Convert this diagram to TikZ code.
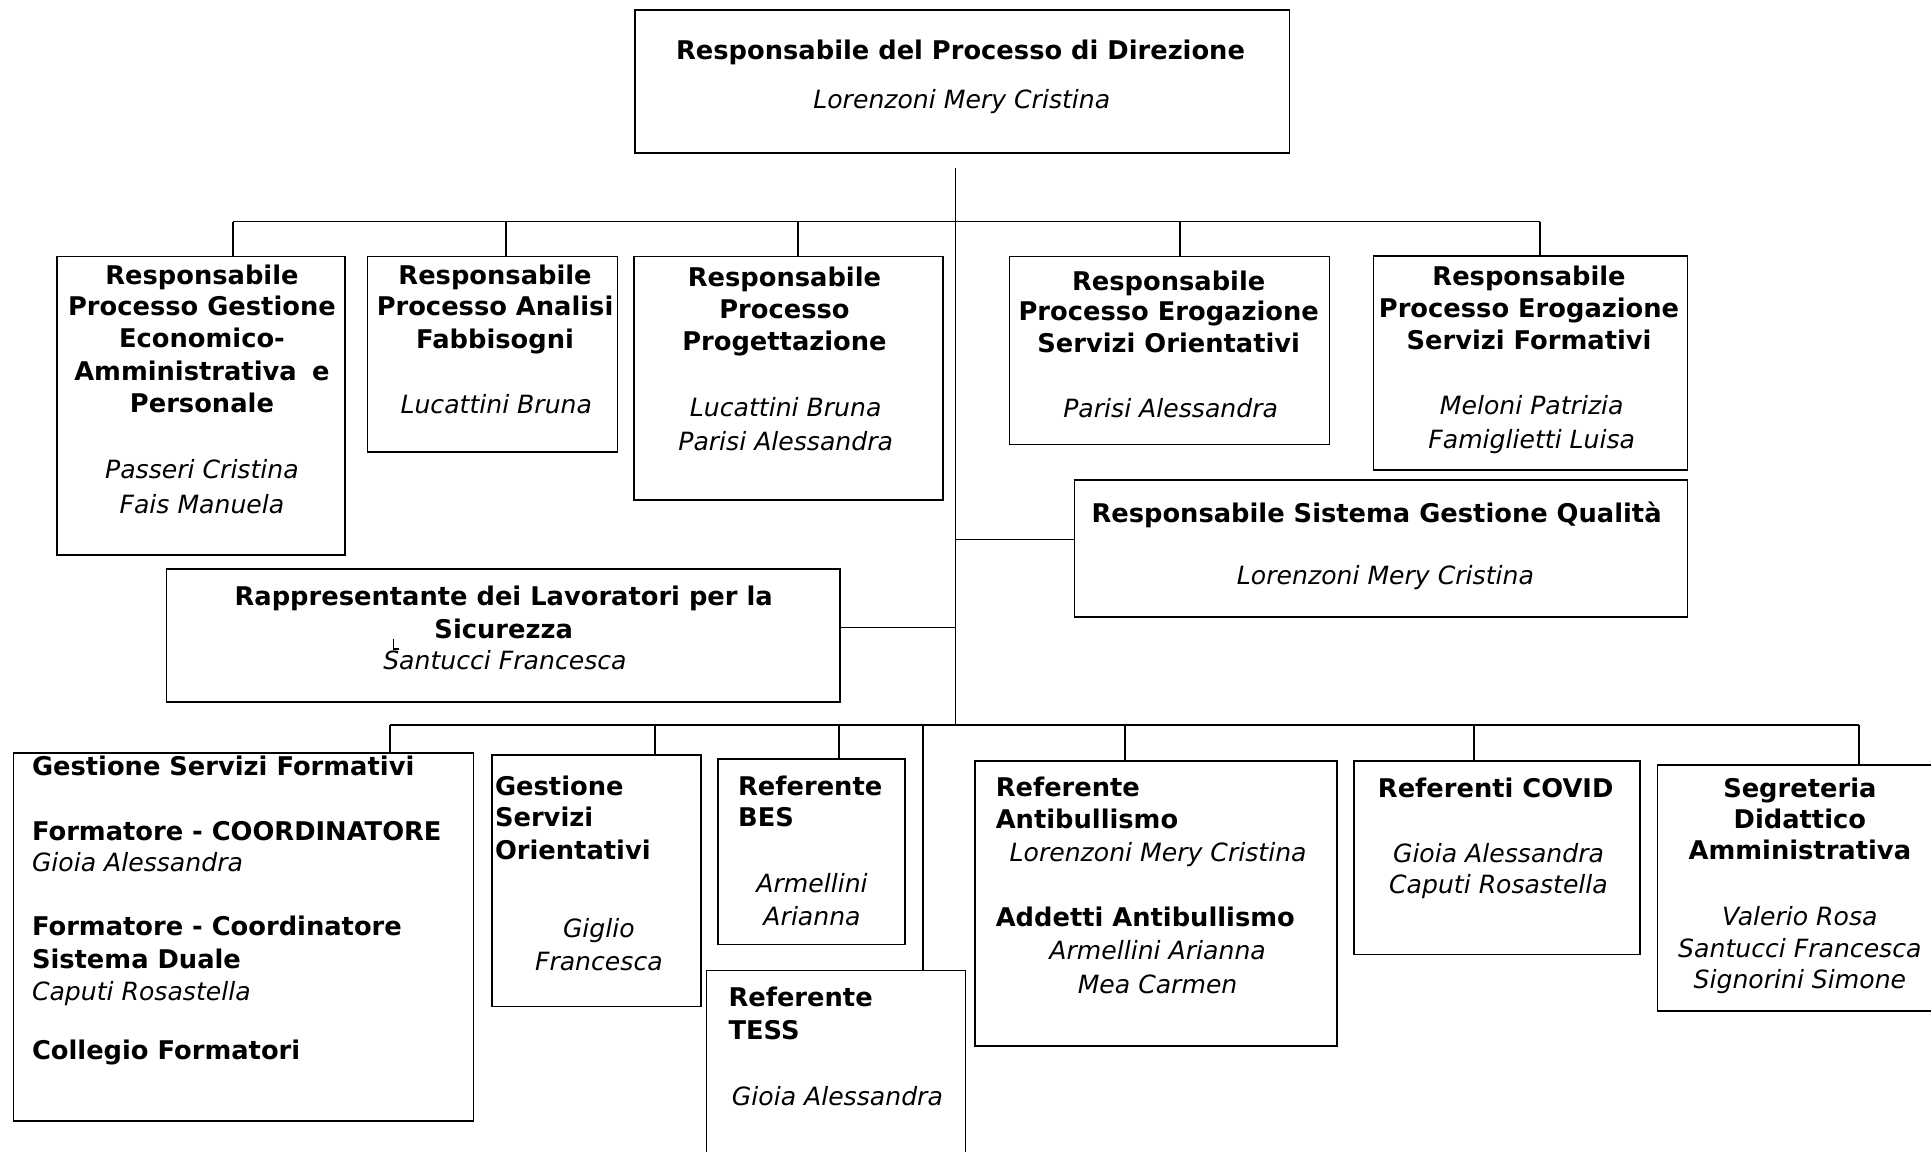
\documentclass[tikz,border=0pt]{standalone}
\usepackage{fontspec}
\setmainfont{DejaVu Sans}
\newcommand\mkbox[5]{\node[box, minimum width={#4-#2}, minimum height={#5-#3}] (#1) at ({(#2+#4)/2},{(#3+#5)/2}) {};}
\tikzset{
  box/.style={draw, line width=1.3pt, inner sep=0pt, outer sep=0pt, rectangle},
  tb/.style={font=\fontsize{20.9}{25}\selectfont\bfseries, inner sep=0pt, anchor=base},
  ti/.style={font=\fontsize{20.4}{25}\selectfont\itshape, inner sep=0pt, anchor=base},
  tbl/.style={tb, anchor=base west},
  conn/.style={line width=1.3pt},
}
\begin{document}
\begin{tikzpicture}[x=1pt,y=-1pt]
\useasboundingbox (0,0) rectangle (1568,935);
\fill[white] (0,0) rectangle (1568,935);
\clip (0,0) rectangle (1568,935);

% boxes
\mkbox{dir}{515.6}{8.1}{1047.2}{124}
\mkbox{b1}{46.5}{208.4}{280}{450.7}
\mkbox{b2}{298.4}{208.4}{501.5}{366.8}
\mkbox{b3}{514.7}{208.4}{765.8}{406}
\mkbox{b4}{819.7}{208.4}{1079.5}{360.8}
\mkbox{b5}{1115.4}{207.9}{1370.3}{381.6}
\mkbox{rsgq}{872.5}{389.8}{1370.3}{500.8}
\mkbox{rls}{135.3}{462}{682.3}{569.8}
\mkbox{gsf}{11}{611.2}{384.4}{910.3}
\mkbox{gso}{399.3}{613.1}{569.4}{817.4}
\mkbox{bes}{582.8}{616.3}{735}{766.8}
\mkbox{tess}{573.8}{788.2}{784.1}{960}
\mkbox{anti}{791.6}{617.7}{1085.7}{849.4}
\mkbox{covid}{1099.5}{617.7}{1331.6}{775}
\mkbox{segr}{1346}{621.2}{1590}{820.7}

% connectors
\coordinate (trunkTop) at (776,136.7);
\coordinate (trunkBot) at (776,588.5);
\draw[conn] (trunkTop) -- (trunkBot);
\coordinate (barL) at (189,180);
\coordinate (barR) at (1250.5,180);
\draw[conn] (barL) -- (barR);
\coordinate (d1) at (189,180);
\coordinate (d2) at (410.7,180);
\coordinate (d3) at (648,180);
\coordinate (d4) at (958,180);
\coordinate (d5) at (1250.5,180);
\draw[conn] (d1) -- (d1 |- b1.north);
\draw[conn] (d2) -- (d2 |- b2.north);
\draw[conn] (d3) -- (d3 |- b3.north);
\draw[conn] (d4) -- (d4 |- b4.north);
\draw[conn] (d5) -- (d5 |- b5.north);
\coordinate (jq) at (776,438);
\draw[conn] (jq) -- (jq -| rsgq.west);
\coordinate (jr) at (776,509.4);
\draw[conn] (jr) -- (jr -| rls.east);
\coordinate (bbL) at (316.7,588.5);
\coordinate (bbR) at (1509.4,588.5);
\draw[conn] (bbL) -- (bbR);
\coordinate (e1) at (316.7,588.5);
\coordinate (e2) at (532,588.5);
\coordinate (e3) at (681.3,588.5);
\coordinate (e4) at (749.3,588.5);
\coordinate (e5) at (913.7,588.5);
\coordinate (e6) at (1197,588.5);
\coordinate (e7) at (1509.4,588.5);
\draw[conn] (e1) -- (e1 |- gsf.north);
\draw[conn] (e2) -- (e2 |- gso.north);
\draw[conn] (e3) -- (e3 |- bes.north);
\draw[conn] (e4) -- (e4 |- tess.north);
\draw[conn] (e5) -- (e5 |- anti.north);
\draw[conn] (e6) -- (e6 |- covid.north);
\draw[conn] (e7) -- (e7 |- segr.north);
% small tick mark in the RLS box
\coordinate (tk1) at (319.5,518.5);
\coordinate (tk2) at (319.5,527);
\coordinate (tk3) at (324,527);
\draw[line width=1.1pt] (tk1) -- (tk2) -- (tk3);

% texts: direction
\node[tb] (tdir1) at (780,48.5) {Responsabile del Processo di Direzione};
\node[ti] (tdir2) at (781,88) {Lorenzoni Mery Cristina};
% b1
\node[tb] (tb1a) at (164,231) {Responsabile};
\node[tb] (tb1b) at (164,256) {Processo Gestione};
\node[tb] (tb1c) at (164,282) {Economico-};
\node[tb] (tb1d) at (164,308.6) {Amministrativa\hspace{0.6em}e};
\node[tb] (tb1e) at (164,335) {Personale};
\node[ti] (tb1f) at (164,388.4) {Passeri Cristina};
\node[ti] (tb1g) at (164,416.8) {Fais Manuela};
% b2
\node[tb] (tb2a) at (402,231) {Responsabile};
\node[tb] (tb2b) at (402,256.5) {Processo Analisi};
\node[tb] (tb2c) at (402,283) {Fabbisogni};
\node[ti] (tb2d) at (403,335.6) {Lucattini Bruna};
% b3
\node[tb] (tb3a) at (637,232.8) {Responsabile};
\node[tb] (tb3b) at (637,258.5) {Processo};
\node[tb] (tb3c) at (637,284.2) {Progettazione};
\node[ti] (tb3d) at (638,338.3) {Lucattini Bruna};
\node[ti] (tb3e) at (638,366) {Parisi Alessandra};
% b4
\node[tb] (tb4a) at (949,235.5) {Responsabile};
\node[tb] (tb4b) at (949,260.4) {Processo Erogazione};
\node[tb] (tb4c) at (949,286.4) {Servizi Orientativi};
\node[ti] (tb4d) at (950.6,338.9) {Parisi Alessandra};
% b5
\node[tb] (tb5a) at (1241.6,232.2) {Responsabile};
\node[tb] (tb5b) at (1241.6,257.7) {Processo Erogazione};
\node[tb] (tb5c) at (1241.6,283.7) {Servizi Formativi};
\node[ti] (tb5d) at (1243.8,336.4) {Meloni Patrizia};
\node[ti] (tb5e) at (1243.8,364) {Famiglietti Luisa};
% rsgq
\node[tb] (tq1) at (1117.8,424.4) {Responsabile Sistema Gestione Qualità};
\node[ti] (tq2) at (1125,475) {Lorenzoni Mery Cristina};
% rls
\node[tb] (tr1) at (409,492) {Rappresentante dei Lavoratori per la};
\node[tb] (tr2) at (409,518.3) {Sicurezza};
\node[ti] (tr3) at (410,544) {Santucci Francesca};
% gsf
\node[tbl] (tg1) at (25.8,630.1) {Gestione Servizi Formativi};
\node[tbl] (tg2) at (25.8,682.1) {Formatore - COORDINATORE};
\node[ti, anchor=base west] (tg3) at (25.8,707.8) {Gioia Alessandra};
\node[tbl] (tg4) at (25.8,760) {Formatore - Coordinatore};
\node[tbl] (tg5) at (25.8,786.3) {Sistema Duale};
\node[ti, anchor=base west] (tg6) at (25.8,812) {Caputi Rosastella};
\node[tbl] (tg7) at (25.8,860.2) {Collegio Formatori};
% gso
\node[tbl] (to1) at (401.8,645.6) {Gestione};
\node[tbl] (to2) at (401.8,671.3) {Servizi};
\node[tbl] (to3) at (401.8,697.8) {Orientativi};
\node[ti] (to4) at (486.3,761.1) {Giglio};
\node[ti] (to5) at (486.3,788.2) {Francesca};
% bes
\node[tbl] (tbe1) at (599.2,645.6) {Referente};
\node[tbl] (tbe2) at (599.2,671.3) {BES};
\node[ti] (tbe3) at (659.4,724.9) {Armellini};
\node[ti] (tbe4) at (659.4,751.1) {Arianna};
% tess
\node[tbl] (tt1) at (591.4,817.4) {Referente};
\node[tbl] (tt2) at (591.4,843.7) {TESS};
\node[ti] (tt3) at (680,897.3) {Gioia Alessandra};
% antibullismo
\node[tbl] (ta1) at (808.4,646.9) {Referente};
\node[tbl] (ta2) at (808.4,672.6) {Antibullismo};
\node[ti] (ta3) at (940.4,699.7) {Lorenzoni Mery Cristina};
\node[tbl] (ta4) at (808.4,752.5) {Addetti Antibullismo};
\node[ti] (ta5) at (940,779.5) {Armellini Arianna};
\node[ti] (ta6) at (940,806.6) {Mea Carmen};
% covid
\node[tb] (tc1) at (1214.5,647.5) {Referenti COVID};
\node[ti] (tc2) at (1216.8,700.5) {Gioia Alessandra};
\node[ti] (tc3) at (1216.8,725.4) {Caputi Rosastella};
% segreteria
\node[tb] (ts1) at (1461.5,647.5) {Segreteria};
\node[tb] (ts2) at (1461.5,672.6) {Didattico};
\node[tb] (ts3) at (1461.5,697.8) {Amministrativa};
\node[ti] (ts4) at (1461.5,751.1) {Valerio Rosa};
\node[ti] (ts5) at (1461.5,777.7) {Santucci Francesca};
\node[ti] (ts6) at (1461.5,802.5) {Signorini Simone};
\end{tikzpicture}
\end{document}
